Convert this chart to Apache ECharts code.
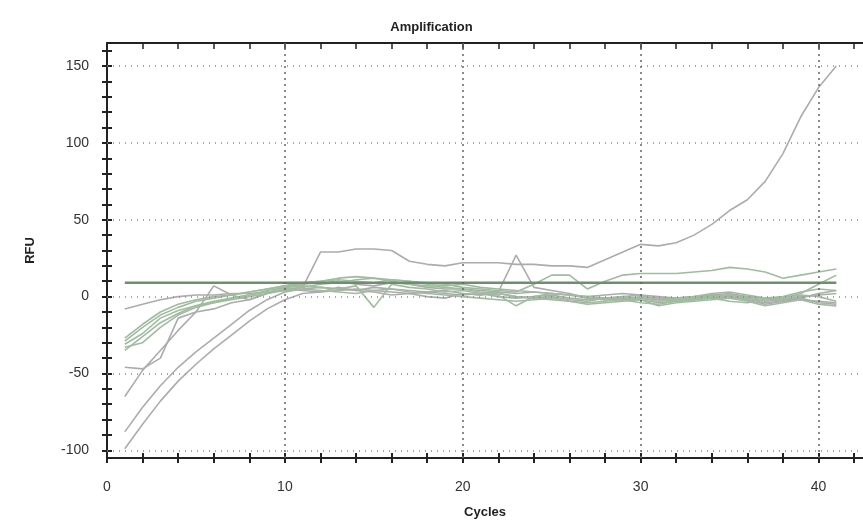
<!DOCTYPE html>
<html>
<head>
<meta charset="utf-8">
<script src="https://cdn.jsdelivr.net/npm/echarts@6/dist/echarts.min.js"></script>
<style>
html,body{margin:0;padding:0;background:#fff;}
#chart{width:863px;height:524px;}
</style>
</head>
<body>
<div id="chart"></div>
<script>
// ---- data ----
const cycles = [1,2,3,4,5,6,7,8,9,10,11,12,13,14,15,16,17,18,19,20,21,22,23,24,25,26,27,28,29,30,31,32,33,34,35,36,37,38,39,40,41];

const curveA = [-8,-5,-2,0,1,1,2,2,3,4,6,29,29,31,31,30,23,21,20,22,22,22,21,21,20,20,19,24,29,34,33,35,40,47,56,63,75,93,117,136,150];
const curveB = [-99,-83,-68,-55,-44,-34,-25,-16,-8,-2,2,3,4,5,4,3,2,3,2,1,2,0,-1,0,1,-1,-2,-1,0,-1,-2,-3,-2,0,1,-1,-3,-2,-1,-4,-5];
const curveC = [-88,-72,-58,-46,-36,-27,-18,-9,-2,3,5,6,5,4,6,5,4,3,4,2,1,2,0,-1,0,-2,-3,-1,-2,0,-1,-2,-1,1,0,-2,-4,-3,-2,-3,-4];
const curveD = [-65,-48,-35,-22,-10,7,1,-2,2,6,8,9,10,8,7,9,8,6,5,5,4,3,2,3,2,1,0,1,2,1,0,-1,0,1,2,0,-1,-2,0,1,2];
const curveE = [-46,-47,-40,-14,-10,-8,-4,-2,2,5,4,3,6,4,3,1,2,0,-1,2,1,3,27,6,4,2,-1,-2,-1,-2,-4,-3,-2,-1,0,-2,-5,-3,-1,2,4];
const curveF = [-29,-20,-12,-7,-3,-1,1,3,5,7,9,10,12,13,12,11,10,9,8,6,5,4,3,8,14,14,5,10,14,15,15,15,16,17,19,18,16,12,14,16,18];
const curveG = [-27,-18,-10,-5,-2,0,1,3,5,7,9,10,11,10,9,11,10,8,7,8,6,5,4,3,2,1,0,-1,-2,-1,-3,-2,-1,0,1,0,-2,-1,2,8,14];
const curveH = [-31,-24,-14,-9,-6,-3,-1,1,3,5,6,8,9,11,12,10,8,7,6,5,3,2,0,-1,-2,-3,-4,-3,-2,-4,-5,-3,-2,-1,-3,-4,-2,-1,1,0,-3];
const curveI = [-33,-30,-20,-12,-7,-4,-2,0,2,4,5,4,3,2,4,5,3,2,1,0,-1,-2,-3,-2,-1,-3,-5,-4,-3,-2,-6,-4,-3,-2,-1,-3,-6,-4,-2,-5,-6];
const curveJ = [-35,-26,-17,-11,-6,-4,-1,1,4,6,7,6,5,7,-7,8,6,5,3,4,2,1,-6,0,2,1,-1,-2,0,1,-2,-1,0,2,3,1,-1,0,3,5,4];

const greyCurves = [curveA, curveB, curveC, curveD, curveE];
const greenCurves = [curveF, curveG, curveH, curveI, curveJ];

const thresholdValue = 9;
const thresholdCycles = [1, 41];

const yLabelValues = [-100, -50, 0, 50, 100, 150];
const yTickValues = [-100,-90,-80,-70,-60,-50,-40,-30,-20,-10,0,10,20,30,40,50,60,70,80,90,100,110,120,130,140,150,160];
const xLabelValues = [0, 10, 20, 30, 40];
const xTickValues = [0,2,4,6,8,10,12,14,16,18,20,22,24,26,28,30,32,34,36,38,40,42];
const xGridValues = [10, 20, 30, 40];

// ---- chart ----
const chart = echarts.init(document.getElementById('chart'), null, {renderer: 'canvas'});
const FONT = 'Arial, "Liberation Sans", sans-serif';

function pairs(arr) { return cycles.map((c, i) => [c, arr[i]]); }

const series = [];
series.push({
  type: 'line', data: [], z: 1, silent: true,
  markLine: {
    silent: true, symbol: 'none', label: {show: false},
    data: yLabelValues.map(v => ({yAxis: v, lineStyle: {type: [1, 5], color: '#8a8a8a', width: 1.5}}))
      .concat(xGridValues.map(v => ({xAxis: v, lineStyle: {type: [2, 4], color: '#666', width: 1.5}})))
  }
});
greyCurves.forEach((arr, i) => series.push({
  type: 'line', name: 'grey' + i, data: pairs(arr), symbol: 'none', z: 3,
  lineStyle: {color: '#acacac', width: 1.6}
}));
greenCurves.forEach((arr, i) => series.push({
  type: 'line', name: 'green' + i, data: pairs(arr), symbol: 'none', z: 3,
  lineStyle: {color: '#9fbc9f', width: 1.6}
}));
series.push({
  type: 'line', name: 'threshold', symbol: 'none', z: 4,
  data: thresholdCycles.map(c => [c, thresholdValue]),
  lineStyle: {color: '#6e8e6e', width: 2.5}
});

const yMin = -105, yMax = 165, xMin = 0, xMax = 42.5;
const tickStyle = {color: '#222', width: 2};

chart.setOption({
  backgroundColor: '#fff',
  animation: false,
  title: {
    text: 'Amplification', left: 'center', top: 16,
    textStyle: {fontFamily: FONT, fontSize: 13, fontWeight: 'bold', color: '#222'}
  },
  grid: {left: 107, right: 0, top: 43, bottom: 66},
  xAxis: [
    {
      type: 'value', min: xMin, max: xMax, position: 'bottom',
      name: 'Cycles', nameLocation: 'middle', nameGap: 48,
      nameTextStyle: {fontFamily: FONT, fontSize: 13, fontWeight: 'bold', color: '#222'},
      axisLine: {show: true, onZero: false, lineStyle: {color: '#222', width: 2}},
      axisTick: {show: true, inside: false, length: 5, customValues: xTickValues, lineStyle: tickStyle},
      axisLabel: {customValues: xLabelValues, margin: 22, fontFamily: FONT, fontSize: 14, color: '#333'},
      splitLine: {show: false}
    },
    {
      type: 'value', min: xMin, max: xMax, position: 'bottom',
      axisLine: {show: false, onZero: false},
      axisTick: {show: true, inside: true, length: 5, customValues: xTickValues, lineStyle: tickStyle},
      axisLabel: {show: false},
      splitLine: {show: false}
    },
    {
      type: 'value', min: xMin, max: xMax, position: 'top',
      axisLine: {show: true, onZero: false, lineStyle: {color: '#222', width: 2}},
      axisTick: {show: true, inside: true, length: 6, customValues: xTickValues, lineStyle: {color: '#222', width: 1.5}},
      axisLabel: {show: false},
      splitLine: {show: false}
    }
  ],
  yAxis: [
    {
      type: 'value', min: yMin, max: yMax, position: 'left',
      name: 'RFU', nameLocation: 'middle', nameGap: 70, nameRotate: 90,
      nameTextStyle: {fontFamily: FONT, fontSize: 13, fontWeight: 'bold', color: '#222'},
      axisLine: {show: true, onZero: false, lineStyle: {color: '#222', width: 2}},
      axisTick: {show: true, inside: false, length: 5, customValues: yTickValues, lineStyle: tickStyle},
      axisLabel: {customValues: yLabelValues, margin: 18, fontFamily: FONT, fontSize: 14, color: '#333'},
      splitLine: {show: false}
    },
    {
      type: 'value', min: yMin, max: yMax, position: 'left',
      axisLine: {show: false, onZero: false},
      axisTick: {show: true, inside: true, length: 5, customValues: yTickValues, lineStyle: tickStyle},
      axisLabel: {show: false},
      splitLine: {show: false}
    }
  ],
  series: series
});
</script>
</body>
</html>
